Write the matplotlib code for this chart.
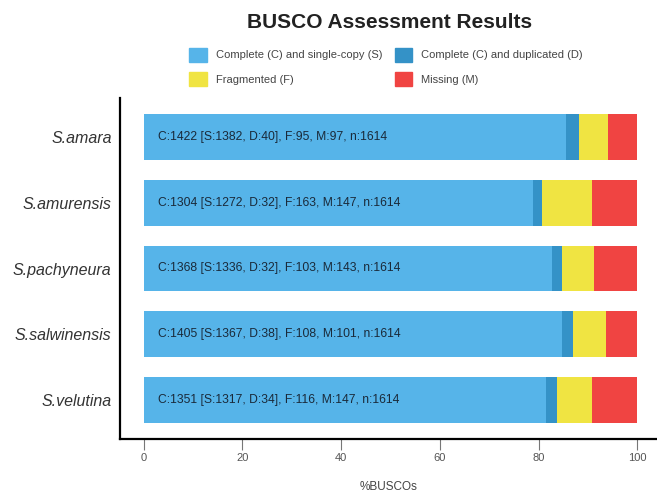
import matplotlib.pyplot as plt
import numpy as np
from matplotlib.patches import Patch

plt.rcParams['font.family'] = ['Liberation Sans', 'DejaVu Sans']

species = ['S.amara', 'S.amurensis', 'S.pachyneura', 'S.salwinensis', 'S.velutina']
single = np.array([1382, 1272, 1336, 1367, 1317])
dup = np.array([40, 32, 32, 38, 34])
frag = np.array([95, 163, 103, 108, 116])
missing = np.array([97, 147, 143, 101, 147])
n_total = 1614

cats = ['Complete (C) and single-copy (S)', 'Complete (C) and duplicated (D)',
        'Fragmented (F)', 'Missing (M)']
colors = ['#56B4E9', '#3492C7', '#F0E442', '#F04442']

fig = plt.figure(figsize=(6.57, 4.93), dpi=100)
ax = fig.add_axes([120 / 657, 1 - 439 / 493, 537 / 657, 341 / 493])

y = np.arange(len(species))
pct = [single / n_total * 100, dup / n_total * 100,
       frag / n_total * 100, missing / n_total * 100]
left = np.zeros(len(species))
for vals, c in zip(pct, colors):
    ax.barh(y, vals, left=left, color=c, height=0.7)
    left += vals

# summary text inside each bar
for i in range(len(species)):
    txt = 'C:%d [S:%d, D:%d], F:%d, M:%d, n:%d' % (
        single[i] + dup[i], single[i], dup[i], frag[i], missing[i], n_total)
    ax.text(3, y[i], txt, va='center', ha='left', fontsize=8.7, color='#1a2a3a')

ax.set_xlim(-4.8, 104)
ax.set_ylim(4.6, -0.6)
ax.set_yticks(y)
ax.set_yticklabels(species, fontstyle='italic', fontsize=11.5, color='#333333')
ax.tick_params(axis='y', length=0, pad=6)
ax.set_xticks([0, 20, 40, 60, 80, 100])
ax.tick_params(axis='x', labelsize=8, labelcolor='#555555', color='#777777',
               length=8, width=0.8, pad=2)
ax.set_xlabel('%BUSCOs', fontsize=8.5, color='#444444', labelpad=13)
ax.spines['top'].set_visible(False)
ax.spines['right'].set_visible(False)
ax.spines['left'].set_linewidth(1.6)
ax.spines['bottom'].set_linewidth(1.6)

fig.text(390 / 657, 1 - 23 / 493, 'BUSCO Assessment Results', ha='center', va='center',
         fontsize=15, fontweight='bold', color='#222222')

handles = [Patch(color=colors[0]), Patch(color=colors[2]),
           Patch(color=colors[1]), Patch(color=colors[3])]
labels = [cats[0], cats[2], cats[1], cats[3]]
fig.legend(handles, labels, ncol=2, loc='center', bbox_to_anchor=(386 / 657, 1 - 67 / 493),
           frameon=False, fontsize=8, handlelength=1.6, handleheight=1.6,
           labelspacing=0.9, columnspacing=1.1, handletextpad=0.8, labelcolor='#444444')

fig.savefig('out.png', dpi=100)
